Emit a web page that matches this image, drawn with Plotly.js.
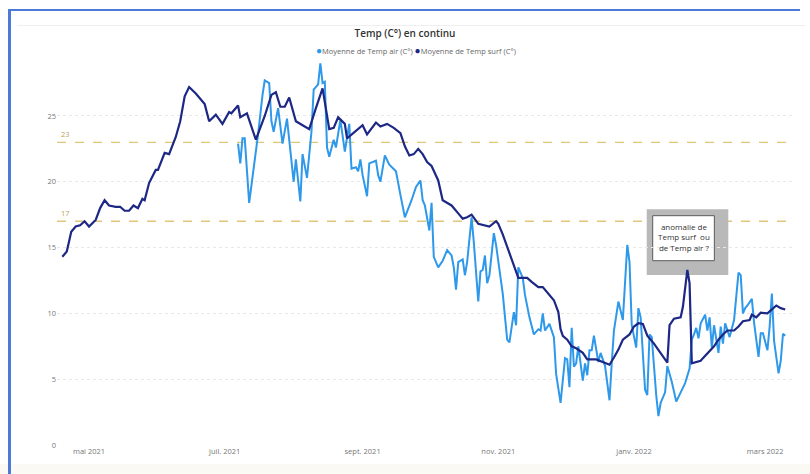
<!DOCTYPE html>
<html>
<head>
<meta charset="utf-8">
<script src="https://cdn.plot.ly/plotly-3.0.1.min.js"></script>
<style>
  html, body { margin: 0; padding: 0; background: #ffffff; }
  #wrap { position: relative; width: 810px; height: 474px; overflow: hidden; background: #ffffff; }
  #chart { position: absolute; left: 0; top: 0; width: 810px; height: 474px; z-index: 1; }
  .deco { position: absolute; z-index: 2; }
  #cream { left: 0; top: 464px; width: 810px; height: 10px; background: #fbf9f4; z-index: 0; }
  #fl { left: 8px; top: 9px; width: 3px; height: 465px; background: #4d79d8; }
  #ft { left: 8px; top: 9px; width: 792px; height: 2px; background: #4d79d8; }
  #hl { left: 17px; top: 25px; width: 788px; height: 1px; background: #efefef; }
</style>
</head>
<body>
<div id="wrap">
  <div id="cream" class="deco"></div>
  <div id="chart"></div>
  <div id="fl" class="deco"></div>
  <div id="ft" class="deco"></div>
  <div id="hl" class="deco"></div>
</div>
<script>
// ---- Data ----
const surfDates = ["2021-04-19","2021-04-21","2021-04-23","2021-04-25","2021-04-27","2021-04-29","2021-05-01","2021-05-04","2021-05-06","2021-05-08","2021-05-10","2021-05-13","2021-05-15","2021-05-17","2021-05-19","2021-05-21","2021-05-23","2021-05-25","2021-05-26","2021-05-28","2021-05-31","2021-06-01","2021-06-04","2021-06-06","2021-06-09","2021-06-11","2021-06-13","2021-06-15","2021-06-18","2021-06-20","2021-06-22","2021-06-24","2021-06-27","2021-06-30","2021-07-03","2021-07-04","2021-07-07","2021-07-08","2021-07-11","2021-07-15","2021-07-19","2021-07-22","2021-07-24","2021-07-26","2021-07-28","2021-07-30","2021-08-02","2021-08-05","2021-08-06","2021-08-08","2021-08-11","2021-08-14","2021-08-17","2021-08-19","2021-08-21","2021-08-24","2021-08-25","2021-08-28","2021-09-01","2021-09-03","2021-09-07","2021-09-09","2021-09-12","2021-09-15","2021-09-18","2021-09-20","2021-09-22","2021-09-24","2021-09-26","2021-09-28","2021-09-30","2021-10-02","2021-10-05","2021-10-07","2021-10-09","2021-10-11","2021-10-14","2021-10-16","2021-10-18","2021-10-20","2021-10-23","2021-10-26","2021-10-28","2021-10-31","2021-11-01","2021-11-03","2021-11-06","2021-11-08","2021-11-10","2021-11-11","2021-11-14","2021-11-16","2021-11-19","2021-11-21","2021-11-23","2021-11-26","2021-11-28","2021-11-29","2021-11-30","2021-12-02","2021-12-04","2021-12-06","2021-12-09","2021-12-11","2021-12-15","2021-12-17","2021-12-19","2021-12-21","2021-12-23","2021-12-25","2021-12-27","2021-12-30","2022-01-01","2022-01-03","2022-01-05","2022-01-07","2022-01-10","2022-01-13","2022-01-15","2022-01-16","2022-01-17","2022-01-19","2022-01-22","2022-01-23","2022-01-25","2022-01-26","2022-01-27","2022-01-29","2022-01-31","2022-02-01","2022-02-04","2022-02-06","2022-02-08","2022-02-10","2022-02-12","2022-02-15","2022-02-17","2022-02-19","2022-02-22","2022-02-23","2022-02-25","2022-02-27","2022-03-02","2022-03-04","2022-03-06","2022-03-08","2022-03-10"];
const surfValues = [14.3,14.7,16.2,16.6,16.7,17.0,16.6,17.1,18.0,18.6,18.2,18.1,18.1,17.8,17.8,18.2,18.0,18.7,18.6,19.9,20.9,20.9,22.2,22.1,23.4,24.6,26.5,27.2,26.7,26.3,25.9,24.6,25.1,24.4,25.3,25.2,25.8,24.9,25.2,23.2,25.0,26.6,26.8,25.7,25.7,26.4,24.6,24.3,24.2,24.0,25.6,27.1,24.0,24.1,24.9,24.4,23.3,23.7,24.3,23.6,24.5,24.2,24.4,24.1,23.7,22.7,22.0,22.1,22.5,22.1,21.5,21.2,20.1,18.6,18.4,18.2,17.6,17.2,17.3,17.5,16.8,16.7,16.6,17.0,16.8,16.0,14.6,13.5,12.7,12.7,12.7,12.4,12.0,12.0,11.6,11.0,10.1,8.8,8.3,8.0,7.5,7.35,7.0,6.5,6.5,6.35,6.2,6.1,6.65,7.25,8.0,8.4,9.0,9.25,9.2,8.3,7.7,7.0,6.5,6.25,9.1,9.6,9.7,10.5,13.3,12.3,6.2,6.3,6.4,6.6,7.1,7.5,8.0,8.4,8.7,8.7,9.0,9.4,9.5,9.9,9.7,10.05,10.0,10.3,10.6,10.4,10.3];

const airDates = ["2021-07-07","2021-07-08","2021-07-09","2021-07-10","2021-07-12","2021-07-15","2021-07-16","2021-07-18","2021-07-19","2021-07-21","2021-07-22","2021-07-23","2021-07-25","2021-07-27","2021-07-29","2021-08-01","2021-08-02","2021-08-04","2021-08-05","2021-08-07","2021-08-08","2021-08-09","2021-08-10","2021-08-12","2021-08-13","2021-08-14","2021-08-15","2021-08-16","2021-08-17","2021-08-19","2021-08-20","2021-08-22","2021-08-23","2021-08-24","2021-08-26","2021-08-27","2021-08-29","2021-08-30","2021-08-31","2021-09-01","2021-09-03","2021-09-04","2021-09-07","2021-09-08","2021-09-09","2021-09-11","2021-09-13","2021-09-16","2021-09-18","2021-09-20","2021-09-23","2021-09-25","2021-09-27","2021-09-28","2021-09-29","2021-10-01","2021-10-02","2021-10-03","2021-10-04","2021-10-05","2021-10-07","2021-10-09","2021-10-11","2021-10-12","2021-10-13","2021-10-14","2021-10-16","2021-10-17","2021-10-18","2021-10-20","2021-10-21","2021-10-23","2021-10-24","2021-10-25","2021-10-26","2021-10-27","2021-10-28","2021-10-30","2021-10-31","2021-11-03","2021-11-05","2021-11-06","2021-11-08","2021-11-09","2021-11-10","2021-11-12","2021-11-13","2021-11-15","2021-11-17","2021-11-19","2021-11-20","2021-11-21","2021-11-22","2021-11-24","2021-11-26","2021-11-27","2021-11-29","2021-12-01","2021-12-02","2021-12-03","2021-12-04","2021-12-05","2021-12-06","2021-12-07","2021-12-09","2021-12-10","2021-12-11","2021-12-12","2021-12-13","2021-12-14","2021-12-16","2021-12-17","2021-12-19","2021-12-21","2021-12-22","2021-12-23","2021-12-25","2021-12-27","2021-12-29","2021-12-30","2021-12-31","2022-01-02","2022-01-03","2022-01-04","2022-01-06","2022-01-07","2022-01-08","2022-01-09","2022-01-11","2022-01-12","2022-01-13","2022-01-15","2022-01-16","2022-01-18","2022-01-20","2022-01-22","2022-01-24","2022-01-26","2022-01-27","2022-01-28","2022-01-29","2022-01-30","2022-01-31","2022-02-02","2022-02-03","2022-02-04","2022-02-05","2022-02-06","2022-02-08","2022-02-09","2022-02-10","2022-02-11","2022-02-13","2022-02-15","2022-02-17","2022-02-18","2022-02-19","2022-02-20","2022-02-21","2022-02-23","2022-02-24","2022-02-26","2022-02-27","2022-02-28","2022-03-02","2022-03-03","2022-03-04","2022-03-05","2022-03-07","2022-03-08","2022-03-09","2022-03-10"];
const airValues = [22.9,21.4,23.3,23.3,18.4,22.0,23.6,26.6,27.7,27.5,24.6,23.8,25.6,22.9,24.8,20.0,21.7,18.5,22.1,20.3,22.0,23.8,27.0,27.4,29.0,27.5,27.6,22.6,21.9,23.2,22.6,24.7,23.5,22.3,24.4,21.0,21.1,20.8,21.7,20.5,18.9,21.4,21.6,20.5,20.0,22.0,21.3,20.8,19.0,17.3,18.6,19.6,20.1,18.6,18.2,16.3,18.4,14.3,13.9,13.5,14.0,14.8,14.4,13.5,11.8,13.9,14.1,12.9,13.9,17.3,15.4,10.9,13.2,13.3,14.4,12.3,12.9,16.1,15.2,11.5,8.0,7.8,10.1,9.1,13.5,12.7,11.4,9.7,8.4,8.8,8.7,10.0,8.7,9.2,8.2,5.4,3.2,6.6,6.5,4.4,8.9,5.95,6.2,7.5,4.9,6.2,5.3,7.2,7.2,8.3,6.3,7.0,6.0,3.4,6.2,8.7,10.9,9.5,15.2,13.9,9.1,7.4,10.4,9.7,4.2,3.8,8.4,8.2,3.8,2.2,3.2,4.0,6.0,4.8,3.3,4.0,4.7,5.8,8.0,8.4,8.9,8.1,9.25,9.9,8.7,9.7,7.4,9.1,7.0,9.0,7.7,9.25,8.2,9.5,13.1,12.9,10.0,10.4,10.6,11.1,9.3,6.7,8.5,8.5,7.2,9.0,11.5,7.9,5.45,6.4,8.45,8.3];

const refValues = [23, 17];
const refLabels = ["23", "17"];
const xTickVals = ["2021-05-01","2021-07-01","2021-09-01","2021-11-01","2022-01-01","2022-03-01"];
const xTickText = ["mai 2021","juil. 2021","sept. 2021","nov. 2021","janv. 2022","mars 2022"];
const yTickVals = [0, 5, 10, 15, 20, 25];
const seriesNames = ["Moyenne de Temp air (C°)", "Moyenne de Temp surf (C°)"];
const chartTitle = "Temp (C°) en continu";
const noteText = "anomalie de<br>Temp surf\u00a0 ou<br>de Temp air ?";

// ---- Styles ----
const airColor = "#2e98ea";
const surfColor = "#1d2784";
const refColor = "#e2c57c";
const refLabelColor = "#bca257";
const font = "'Open Sans', 'Noto Sans', sans-serif";

const traces = [
  { x: airDates, y: airValues, type: "scatter", mode: "lines", name: seriesNames[0],
    line: { color: airColor, width: 2 }, showlegend: false, hoverinfo: "x+y" },
  { x: surfDates, y: surfValues, type: "scatter", mode: "lines", name: seriesNames[1],
    line: { color: surfColor, width: 2.2 }, showlegend: false, hoverinfo: "x+y" }
];

const shapes = refValues.map(v => ({
  type: "line", xref: "paper", x0: 0, x1: 1, yref: "y", y0: v, y1: v,
  line: { color: refColor, width: 1.3, dash: "dash" }, layer: "between"
}));
shapes.push({ type: "rect", xref: "paper", yref: "paper", x0: 0.7991, x1: 0.9096, y0: 0.4381, y1: 0.6075,
  fillcolor: "#b9b9b9", line: { width: 0 }, layer: "between" });
shapes.push({ type: "rect", xref: "paper", yref: "paper", x0: 0.8072, x1: 0.8907, y0: 0.4750, y1: 0.5910,
  fillcolor: "#ffffff", line: { color: "#5a5a5a", width: 1 }, layer: "between" });

const annotations = refValues.map((v, i) => ({
  xref: "paper", x: 0.003, yref: "y", y: v, text: refLabels[i], showarrow: false,
  xanchor: "left", yanchor: "bottom", yshift: 1, font: { family: font, size: 7.5, color: refLabelColor }
}));
annotations.push({
  xref: "paper", yref: "paper", x: 0.849, y: 0.537, text: noteText, showarrow: false,
  xanchor: "center", yanchor: "middle", align: "center",
  font: { family: font, size: 8, color: "#333333" }
});
annotations.push({
  xref: "paper", yref: "paper", x: 0.4865, y: 1.018, showarrow: false,
  xanchor: "center", yanchor: "middle",
  text: "<span style='color:" + airColor + ";font-size:10px'>●</span>" + seriesNames[0] +
        " <span style='color:" + surfColor + ";font-size:10px'>●</span>" + seriesNames[1],
  font: { family: font, size: 7.5, color: "#666666" }
});

const layout = {
  width: 810, height: 474,
  margin: { l: 57, r: 15, t: 57, b: 29 },
  paper_bgcolor: "rgba(0,0,0,0)", plot_bgcolor: "rgba(0,0,0,0)",
  title: { text: chartTitle, x: 0.5, xanchor: "center", y: 1 - 33 / 474, yanchor: "middle",
           font: { family: font, size: 10, color: "#333333", weight: 600 } },
  showlegend: false,
  xaxis: {
    type: "date", range: ["2021-04-16 14:24", "2022-03-14 09:36"],
    tickvals: xTickVals, ticktext: xTickText, showgrid: false, zeroline: false,
    showline: false, ticks: "", tickfont: { family: font, size: 7.5, color: "#777777" }
  },
  yaxis: {
    range: [0, 29.48], tickvals: yTickVals, showgrid: true, gridcolor: "#e8e8e8", griddash: "dot",
    gridwidth: 1, zeroline: false, showline: false, ticks: "",
    tickfont: { family: font, size: 7.5, color: "#777777" }
  },
  shapes: shapes,
  annotations: annotations
};

Plotly.newPlot("chart", traces, layout, { displayModeBar: false, staticPlot: true });
</script>
</body>
</html>
